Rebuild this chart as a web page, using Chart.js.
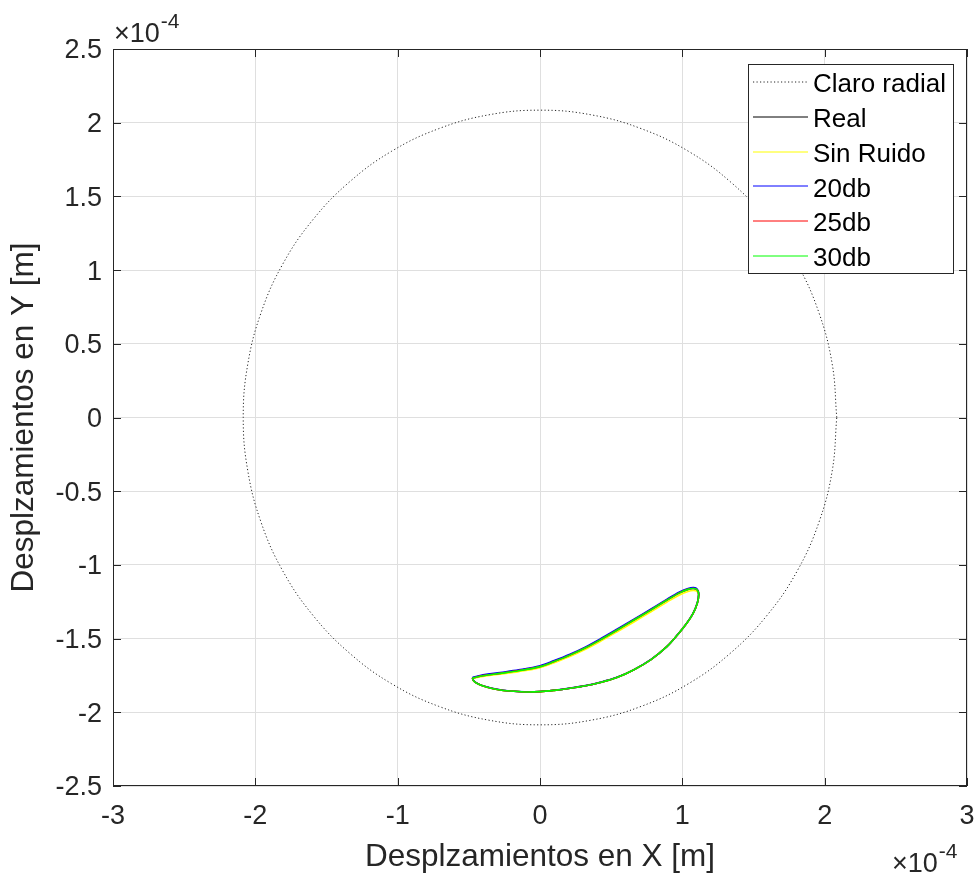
<!DOCTYPE html>
<html>
<head>
<meta charset="utf-8">
<script src="https://cdn.jsdelivr.net/npm/chart.js@4/dist/chart.umd.min.js"></script>
<style>
html, body { margin: 0; padding: 0; background: #ffffff; }
canvas { display: block; }
</style>
</head>
<body>
<canvas id="c" width="979" height="876"></canvas>
<script>
// ---- Data (all displacements in units of 1e-4 m) ----
const seriesLabels = ['Claro radial', 'Real', 'Sin Ruido', '20db', '25db', '30db'];
const seriesColors = ['#262626', '#000000', '#ffff00', '#0000ff', '#ff0000', '#00ff00'];

const xTickValues = [-3, -2, -1, 0, 1, 2, 3];
const yTickValues = [-2.5, -2, -1.5, -1, -0.5, 0, 0.5, 1, 1.5, 2, 2.5];
const axisExponent = '-4';

// Radial clearance circle (radius ~2.085e-4 m)
const circleX = [2.085, 2.053, 1.959, 1.806, 1.597, 1.340, 1.043, 0.713, 0.362, 0.000,
  -0.362, -0.713, -1.043, -1.340, -1.597, -1.806, -1.959, -2.053, -2.085,
  -2.053, -1.959, -1.806, -1.597, -1.340, -1.043, -0.713, -0.362, 0.000,
  0.362, 0.713, 1.043, 1.340, 1.597, 1.806, 1.959, 2.053, 2.085];
const circleY = [0.000, 0.362, 0.713, 1.043, 1.340, 1.597, 1.806, 1.959, 2.053, 2.085,
  2.053, 1.959, 1.806, 1.597, 1.340, 1.043, 0.713, 0.362, 0.000,
  -0.362, -0.713, -1.043, -1.340, -1.597, -1.806, -1.959, -2.053, -2.085,
  -2.053, -1.959, -1.806, -1.597, -1.340, -1.043, -0.713, -0.362, 0.000];

// Shaft orbit (shared X positions along the loop: upper branch, tip, lower branch)
const orbitX = [-0.475, -0.40, -0.28, -0.15, 0.00, 0.10, 0.21, 0.32, 0.42, 0.54,
  0.66, 0.78, 0.89, 0.98, 1.04, 1.08, 1.105, 1.115,
  1.105, 1.075, 1.031, 0.97, 0.891, 0.78, 0.657, 0.54, 0.422, 0.32,
  0.211, 0.10, 0.00, -0.11, -0.21, -0.30, -0.37, -0.43, -0.465, -0.475];

const realY = [-1.767, -1.751, -1.735, -1.716, -1.689, -1.654, -1.611, -1.561, -1.509, -1.442,
  -1.373, -1.304, -1.239, -1.189, -1.165, -1.159, -1.169, -1.200,
  -1.260, -1.330, -1.396, -1.470, -1.555, -1.642, -1.713, -1.764, -1.798, -1.820,
  -1.837, -1.851, -1.860, -1.862, -1.856, -1.845, -1.830, -1.810, -1.788, -1.767];
const sinRuidoY = [-1.770, -1.756, -1.741, -1.724, -1.697, -1.663, -1.621, -1.572, -1.521, -1.455,
  -1.387, -1.318, -1.254, -1.204, -1.180, -1.174, -1.182, -1.208,
  -1.262, -1.331, -1.396, -1.470, -1.555, -1.642, -1.713, -1.764, -1.798, -1.820,
  -1.837, -1.851, -1.860, -1.862, -1.856, -1.845, -1.830, -1.810, -1.788, -1.770];
const db20Y = [-1.764, -1.746, -1.730, -1.712, -1.684, -1.649, -1.606, -1.556, -1.504, -1.437,
  -1.368, -1.299, -1.234, -1.184, -1.160, -1.154, -1.165, -1.198,
  -1.258, -1.329, -1.395, -1.469, -1.554, -1.641, -1.712, -1.763, -1.797, -1.819,
  -1.836, -1.850, -1.859, -1.861, -1.855, -1.844, -1.829, -1.809, -1.786, -1.764];
const db25Y = [-1.768, -1.751, -1.736, -1.717, -1.690, -1.655, -1.612, -1.562, -1.510, -1.443,
  -1.374, -1.305, -1.240, -1.190, -1.166, -1.160, -1.170, -1.200,
  -1.260, -1.330, -1.396, -1.470, -1.555, -1.642, -1.713, -1.764, -1.798, -1.820,
  -1.837, -1.851, -1.860, -1.862, -1.856, -1.845, -1.830, -1.810, -1.788, -1.768];
const db30Y = [-1.768, -1.752, -1.736, -1.718, -1.690, -1.655, -1.612, -1.562, -1.510, -1.443,
  -1.374, -1.305, -1.240, -1.190, -1.166, -1.160, -1.170, -1.200,
  -1.260, -1.330, -1.396, -1.470, -1.555, -1.642, -1.713, -1.764, -1.798, -1.820,
  -1.837, -1.851, -1.860, -1.862, -1.856, -1.845, -1.830, -1.810, -1.788, -1.768];

// ---- Build datasets ----
const toPoints = (xs, ys) => xs.map((x, i) => ({ x: x, y: ys[i] }));
const seriesY = [circleY, realY, sinRuidoY, db20Y, db25Y, db30Y];
const seriesX = [circleX, orbitX, orbitX, orbitX, orbitX, orbitX];

const FONT = "'Liberation Sans', Arial, Helvetica, sans-serif";
const TXT = '#262626';

const datasets = seriesLabels.map((lab, i) => ({
  label: lab,
  data: toPoints(seriesX[i], seriesY[i]),
  showLine: true,
  borderColor: seriesColors[i],
  backgroundColor: seriesColors[i],
  borderWidth: i === 0 ? 1 : 1.6,
  borderDash: i === 0 ? [1.2, 2.3] : [],
  pointRadius: 0,
  pointHoverRadius: 0,
  tension: i === 0 ? 0.4 : 0.35,
  fill: false,
  order: seriesLabels.length - i
}));

const framePlugin = {
  id: 'frame',
  afterDraw(chart) {
    const ctx = chart.ctx;
    const a = chart.chartArea;
    const xs = chart.scales.x, ys = chart.scales.y;
    ctx.save();
    // inward tick marks on all four sides
    ctx.strokeStyle = TXT;
    ctx.lineWidth = 1;
    ctx.setLineDash([]);
    const tl = 8;
    ctx.beginPath();
    xTickValues.forEach(v => {
      const px = Math.round(xs.getPixelForValue(v)) + 0.5;
      ctx.moveTo(px, a.bottom); ctx.lineTo(px, a.bottom - tl);
      ctx.moveTo(px, a.top); ctx.lineTo(px, a.top + tl);
    });
    yTickValues.forEach(v => {
      const py = Math.round(ys.getPixelForValue(v)) + 0.5;
      ctx.moveTo(a.left, py); ctx.lineTo(a.left + tl, py);
      ctx.moveTo(a.right, py); ctx.lineTo(a.right - tl, py);
    });
    ctx.stroke();
    // box
    ctx.strokeRect(Math.round(a.left) + 0.5, Math.round(a.top) + 0.5,
      Math.round(a.right - a.left) - 1, Math.round(a.bottom - a.top) - 1);

    // exponent labels
    const drawExp = (x, baseY) => {
      ctx.fillStyle = TXT;
      ctx.textAlign = 'left';
      ctx.textBaseline = 'alphabetic';
      ctx.font = '27px ' + FONT;
      const base = '\u00D710';
      ctx.fillText(base, x, baseY);
      const w = ctx.measureText(base).width;
      ctx.font = '21px ' + FONT;
      ctx.fillText(axisExponent, x + w + 1, baseY - 14);
    };
    drawExp(a.left + 1, a.top - 7);
    drawExp(a.right - 75, 872);

    // legend
    const lx = a.right - 219, ly = a.top + 15, lw = 205, lh = 209;
    ctx.fillStyle = '#ffffff';
    ctx.fillRect(lx, ly, lw, lh);
    ctx.strokeStyle = TXT;
    ctx.lineWidth = 1;
    ctx.strokeRect(lx + 0.5, ly + 0.5, lw, lh);
    ctx.font = '26px ' + FONT;
    ctx.textBaseline = 'middle';
    ctx.textAlign = 'left';
    chart.data.datasets.forEach((ds, i) => {
      const ry = ly + 20 + i * 34.8;
      ctx.strokeStyle = ds.borderColor;
      ctx.lineWidth = 1;
      ctx.setLineDash(ds.borderDash || []);
      ctx.beginPath();
      ctx.moveTo(lx + 5, Math.round(ry - 2));
      ctx.lineTo(lx + 60, Math.round(ry - 2));
      ctx.stroke();
      ctx.setLineDash([]);
      ctx.fillStyle = '#000000';
      ctx.fillText(ds.label, lx + 65, ry + 1);
    });
    ctx.restore();
  }
};

new Chart(document.getElementById('c'), {
  type: 'scatter',
  data: { datasets: datasets },
  options: {
    responsive: false,
    animation: false,
    devicePixelRatio: 1,
    layout: { padding: { top: 49, right: 12, left: 0, bottom: 0 } },
    plugins: { legend: { display: false }, tooltip: { enabled: false } },
    scales: {
      x: {
        type: 'linear',
        min: -3, max: 3,
        afterBuildTicks: s => { s.ticks = xTickValues.map(v => ({ value: v })); },
        afterFit: s => { s.height = 90; s.paddingLeft = 0; s.paddingRight = 0; },
        grid: { color: '#dfdfdf', drawTicks: false, lineWidth: 1 },
        border: { display: false },
        ticks: {
          color: TXT, padding: 14, maxRotation: 0,
          font: { family: FONT, size: 27 },
          callback: v => String(v)
        },
        title: {
          display: true, text: 'Desplzamientos en X [m]', color: TXT,
          font: { family: FONT, size: 31.5 }, padding: { top: 0, bottom: 0 }
        }
      },
      y: {
        type: 'linear',
        min: -2.5, max: 2.5,
        afterBuildTicks: s => { s.ticks = yTickValues.map(v => ({ value: v })); },
        afterFit: s => { s.width = 113; s.paddingTop = 0; s.paddingBottom = 0; },
        grid: { color: '#dfdfdf', drawTicks: false, lineWidth: 1 },
        border: { display: false },
        ticks: {
          color: TXT, padding: 11, labelOffset: 2,
          font: { family: FONT, size: 27 },
          callback: v => String(v)
        },
        title: {
          display: true, text: 'Desplzamientos en Y [m]', color: TXT,
          font: { family: FONT, size: 31.5 }, padding: { top: 5, bottom: 0 }
        }
      }
    }
  },
  plugins: [framePlugin]
});
</script>
</body>
</html>
